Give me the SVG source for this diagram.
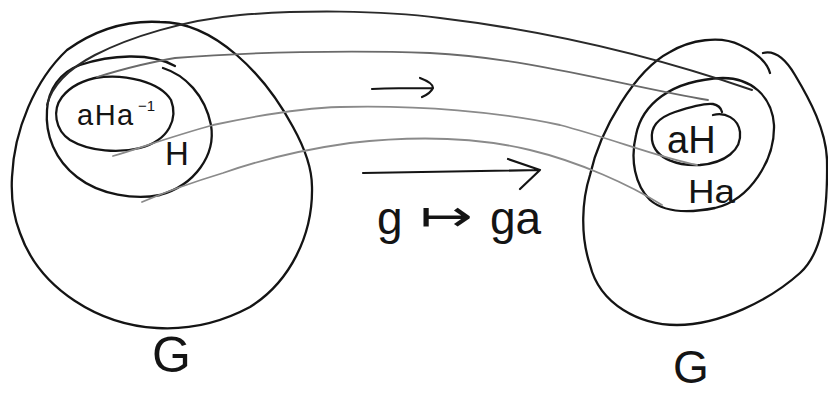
<svg xmlns="http://www.w3.org/2000/svg" width="828" height="394" viewBox="0 0 828 394">
<style>
.o{fill:none;stroke:#141414;stroke-width:2.3;stroke-linecap:round;stroke-linejoin:round}
.c1{fill:none;stroke:#2a2a2a;stroke-width:2;stroke-linecap:round}
.c2{fill:none;stroke:#6a6a6a;stroke-width:1.8;stroke-linecap:round}
.c3{fill:none;stroke:#8a8a8a;stroke-width:1.8;stroke-linecap:round}
.ar{fill:none;stroke:#141414;stroke-width:2.2;stroke-linecap:round;stroke-linejoin:round}
.t{font-family:"Liberation Sans",Arial,sans-serif;fill:#141414}
</style>
<rect width="828" height="394" fill="#ffffff"/>
<g id="left-G">
<path class="o" d="M160,22 C215,22 265,75 293,127 C303,145 312,165 312,187 C313,235 290,282 250,307 C222,322 190,330 157,328 C100,325 40,290 20,233 C13,215 11,195 12,177 C14,130 35,80 67,50 C95,30 125,20 160,22 Z"/>
<text class="t" x="152" y="372" font-size="50">G</text>
</g>
<g id="left-H">
<path class="o" d="M163,68 C185,75 205,95 211,125 C216,155 195,185 160,195 C135,200 100,195 77,177 C55,160 45,135 47,110 C48,90 60,72 80,65 C110,55 150,52 175,66"/>
<text class="t" x="165" y="165" font-size="33">H</text>
</g>
<g id="left-aHa-1">
<path class="o" d="M95,78 C125,73 160,82 171,100 C178,118 170,140 140,148 C120,153 90,152 70,140 C55,130 52,110 62,97 C70,87 82,80 100,77"/>
<text class="t" x="77" y="125" font-size="29" letter-spacing="1.5">aHa</text>
<text class="t" x="138" y="111" font-size="15">−1</text>
</g>
<g id="right-G">
<path class="o" d="M763,53 C775,50 785,58 795,75 C810,100 826,130 827,160 C828,220 820,255 800,273 C770,300 720,325 677,325 C640,325 600,305 590,265 C580,235 582,200 590,175 C600,130 635,70 670,52 C690,40 720,35 740,45 C755,52 767,62 770,73"/>
<text class="t" x="673" y="383" font-size="46">G</text>
</g>
<g id="right-Ha">
<path class="o" d="M723,78 C750,78 772,95 774,125 C775,160 750,200 715,208 C690,213 665,213 650,200 C635,185 630,160 636,135 C642,105 670,80 723,78 Z"/>
<text class="t" x="688" y="203" font-size="34" textLength="47" lengthAdjust="spacingAndGlyphs">Ha</text>
</g>
<g id="right-aH">
<path class="o" d="M713,115 C725,112 738,118 740,132 C742,150 725,163 700,165 C680,166 655,160 652,140 C650,125 660,117 675,112 C690,107 705,103 713,104 C718,105 721,108 722,112"/>
<text class="t" x="667" y="153" font-size="38">aH</text>
</g>
<g id="connectors">
<path class="c1" d="M47,105 C52,85 70,68 95,55 C130,37 185,20 240,15 C300,10 380,10 440,18 C540,30 650,55 752,90"/>
<path class="c2" d="M97,77 C120,70 150,62 175,58 C250,52 350,50 430,53 C530,58 620,85 708,100"/>
<path class="c3" d="M113,156 C140,148 170,137 213,125 C260,115 300,108 340,107 C420,105 500,112 560,125 C610,138 660,158 697,165"/>
<path class="c3" d="M142,202 C170,190 200,180 223,173 C260,160 300,150 350,143 C420,135 480,138 530,150 C580,162 630,185 662,205"/>
<path class="ar" d="M372,89 C395,88 415,88 433,88 M420,78 C428,81 433,85 433,88 C431,92 427,95 422,97"/>
<path class="ar" d="M363,173 C420,172 480,171 540,170 M508,159 L540,170 L520,189"/>
</g>
<g id="map-label">
<text class="t" x="377" y="234" font-size="46">g</text>
<text x="420" y="231" font-size="44" textLength="53" lengthAdjust="spacingAndGlyphs" style="font-family:'DejaVu Sans',sans-serif;fill:#141414">↦</text>
<text class="t" x="490" y="234" font-size="46">ga</text>
</g>
</svg>
